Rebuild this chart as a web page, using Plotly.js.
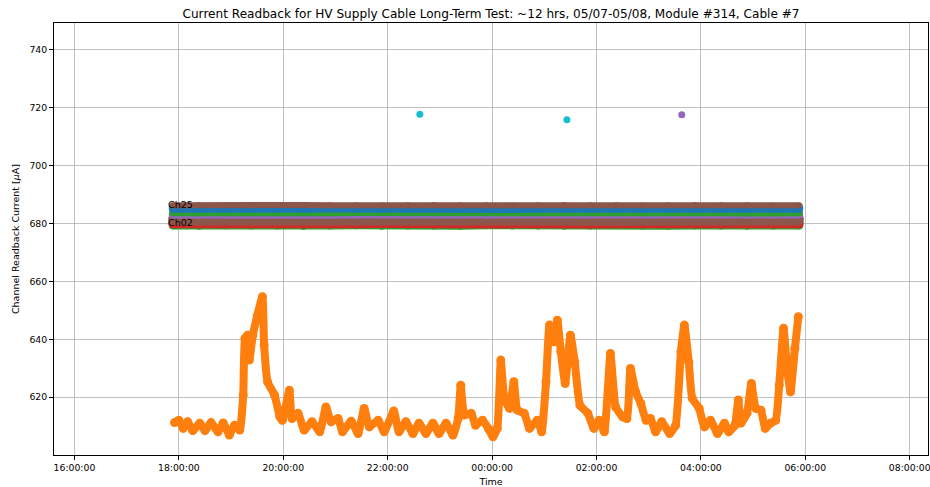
<!DOCTYPE html>
<html>
<head>
<meta charset="utf-8">
<script src="https://cdn.plot.ly/plotly-3.0.1.min.js"></script>
<style>html,body{margin:0;padding:0;background:#fff;}#chart{width:930px;height:487px;}</style>
</head>
<body>
<div id="chart"></div>
<script>
// ---- Data ----
const flatTimes = [
  "2023-05-07 17:53","2023-05-07 18:23","2023-05-07 18:53","2023-05-07 19:23","2023-05-07 19:53",
  "2023-05-07 20:23","2023-05-07 20:53","2023-05-07 21:23","2023-05-07 21:53","2023-05-07 22:23",
  "2023-05-07 22:53","2023-05-07 23:23","2023-05-07 23:53","2023-05-08 00:23","2023-05-08 00:53",
  "2023-05-08 01:23","2023-05-08 01:53","2023-05-08 02:23","2023-05-08 02:53","2023-05-08 03:23",
  "2023-05-08 03:53","2023-05-08 04:23","2023-05-08 04:53","2023-05-08 05:23","2023-05-08 05:53"
];
const chGreenLow  = [679.3,679.2,679.4,679.3,679.3,679.1,679.3,679.4,679.2,679.3,679.3,679.2,679.4,679.3,679.3,679.2,679.3,679.4,679.3,679.2,679.3,679.3,679.2,679.3,679.3];
const chRed       = [679.9,679.8,679.9,680.0,679.9,679.8,679.9,679.9,680.0,679.9,679.8,679.9,679.9,679.9,680.0,679.9,679.8,679.9,679.9,680.0,679.9,679.8,679.9,679.9,679.9];
const chBrownMidA = [680.9,680.8,680.9,680.9,681.0,680.9,680.8,680.9,680.9,680.9,681.0,680.9,680.8,680.9,680.9,680.9,680.8,680.9,681.0,680.9,680.9,680.8,680.9,680.9,680.9];
const chBrownMidB = [681.8,681.9,681.8,681.8,681.7,681.8,681.9,681.8,681.8,681.8,681.7,681.8,681.9,681.8,681.8,681.8,681.9,681.8,681.7,681.8,681.8,681.9,681.8,681.8,681.8];
const chPurple    = [683.1,683.0,683.1,683.1,683.2,683.1,683.0,683.1,683.1,683.1,683.2,683.1,683.0,683.1,683.1,683.1,683.0,683.1,683.2,683.1,683.1,683.0,683.1,683.1,683.1];
const chGreenHigh = [683.7,683.6,683.7,683.7,683.6,683.7,683.7,683.8,683.7,683.6,683.7,683.7,683.7,683.6,683.7,683.7,683.8,683.7,683.6,683.7,683.7,683.7,683.6,683.7,683.7];
const chCyan      = [685.7,685.6,685.7,685.7,685.8,685.7,685.6,685.7,685.7,685.7,685.8,685.7,685.6,685.7,685.7,685.7,685.6,685.7,685.8,685.7,685.7,685.6,685.7,685.7,685.7];
const chBlue      = [685.1,685.0,685.1,685.1,685.0,685.1,685.2,685.1,685.1,685.0,685.1,685.1,685.1,685.0,685.1,685.2,685.1,685.1,685.0,685.1,685.1,685.1,685.0,685.1,685.1];
const chBrownTop  = [686.3,686.4,686.3,686.2,686.3,686.4,686.3,686.3,686.2,686.3,686.4,686.3,686.3,686.2,686.3,686.4,686.3,686.3,686.2,686.3,686.4,686.3,686.3,686.2,686.3];

const cyanOutTimes = ["2023-05-07 22:37","2023-05-08 01:26"];
const cyanOutVals  = [717.8, 715.9];
const purpleOutTimes = ["2023-05-08 03:38"];
const purpleOutVals  = [717.6];

const orangeTimes = [
 "2023-05-07 17:55","2023-05-07 18:00","2023-05-07 18:05","2023-05-07 18:10","2023-05-07 18:16","2023-05-07 18:24",
 "2023-05-07 18:30","2023-05-07 18:37","2023-05-07 18:45","2023-05-07 18:51","2023-05-07 18:58","2023-05-07 19:04",
 "2023-05-07 19:10","2023-05-07 19:14","2023-05-07 19:16","2023-05-07 19:19","2023-05-07 19:21","2023-05-07 19:25",
 "2023-05-07 19:30","2023-05-07 19:36","2023-05-07 19:38","2023-05-07 19:42","2023-05-07 19:50","2023-05-07 19:56",
 "2023-05-07 19:59","2023-05-07 20:07","2023-05-07 20:10","2023-05-07 20:17","2023-05-07 20:24","2023-05-07 20:33",
 "2023-05-07 20:42","2023-05-07 20:49","2023-05-07 20:55","2023-05-07 21:03","2023-05-07 21:08","2023-05-07 21:18",
 "2023-05-07 21:26","2023-05-07 21:33","2023-05-07 21:39","2023-05-07 21:49","2023-05-07 21:56","2023-05-07 22:07",
 "2023-05-07 22:13","2023-05-07 22:21","2023-05-07 22:29","2023-05-07 22:36","2023-05-07 22:44","2023-05-07 22:52",
 "2023-05-07 22:59","2023-05-07 23:07","2023-05-07 23:15","2023-05-07 23:21","2023-05-07 23:24","2023-05-07 23:28",
 "2023-05-07 23:36","2023-05-07 23:41","2023-05-07 23:49","2023-05-07 23:56","2023-05-08 00:01","2023-05-08 00:06",
 "2023-05-08 00:10","2023-05-08 00:14","2023-05-08 00:20","2023-05-08 00:25","2023-05-08 00:29","2023-05-08 00:37",
 "2023-05-08 00:43","2023-05-08 00:52","2023-05-08 00:57","2023-05-08 01:02","2023-05-08 01:06","2023-05-08 01:11",
 "2023-05-08 01:15","2023-05-08 01:19","2023-05-08 01:24","2023-05-08 01:30","2023-05-08 01:35","2023-05-08 01:41",
 "2023-05-08 01:50","2023-05-08 01:57","2023-05-08 02:03","2023-05-08 02:09","2023-05-08 02:16","2023-05-08 02:22",
 "2023-05-08 02:30","2023-05-08 02:35","2023-05-08 02:39","2023-05-08 02:45","2023-05-08 02:51","2023-05-08 02:57",
 "2023-05-08 03:02","2023-05-08 03:08","2023-05-08 03:15","2023-05-08 03:24","2023-05-08 03:31","2023-05-08 03:37",
 "2023-05-08 03:41","2023-05-08 03:46","2023-05-08 03:50","2023-05-08 03:58","2023-05-08 04:04","2023-05-08 04:11",
 "2023-05-08 04:19","2023-05-08 04:27","2023-05-08 04:32","2023-05-08 04:39","2023-05-08 04:43","2023-05-08 04:46",
 "2023-05-08 04:53","2023-05-08 04:58","2023-05-08 05:03","2023-05-08 05:09","2023-05-08 05:14","2023-05-08 05:20",
 "2023-05-08 05:26","2023-05-08 05:30","2023-05-08 05:35","2023-05-08 05:39","2023-05-08 05:43","2023-05-08 05:48",
 "2023-05-08 05:52"
];
const orangeVals = [
 611.2,612.0,609.2,611.5,608.4,611.0,
 608.4,611.2,608.0,611.1,606.9,610.3,
 608.6,620.7,640.3,641.4,632.8,641.4,
 648.0,654.7,638.0,625.3,620.7,613.2,
 612.0,622.4,612.6,614.4,608.6,611.5,
 608.0,616.6,611.5,612.6,608.0,611.7,
 607.4,616.1,609.7,612.0,608.0,615.2,
 608.0,611.5,607.4,611.0,607.4,611.0,
 607.4,611.0,606.9,612.6,624.1,613.8,
 614.4,610.3,612.0,609.0,606.3,609.2,
 632.8,619.6,616.1,625.3,615.5,614.4,
 609.2,612.0,608.0,625.3,644.9,639.1,
 646.6,635.7,624.7,641.4,632.2,617.2,
 614.4,609.2,612.0,608.0,635.1,616.6,
 613.2,612.6,629.9,621.8,617.8,612.0,
 612.6,608.0,611.5,607.4,610.3,635.7,
 644.9,632.2,619.6,616.1,609.7,612.0,
 607.4,611.0,608.0,610.3,619.0,611.0,
 614.4,624.7,616.1,615.5,609.2,611.0,
 612.0,624.1,643.8,629.9,621.8,636.8,
 647.8
];

const labelTexts = ["Ch25","Ch02"];
const labelTimes = ["2023-05-07 17:45","2023-05-07 17:45"];
const labelVals  = [686.6, 680.5];

// ---- Traces ----
function flat(y, color, w) {
  return {x: flatTimes, y: y, type: 'scatter', mode: 'lines+markers',
    line: {color: color, width: w}, marker: {color: color, size: w}, hoverinfo: 'skip'};
}
const traces = [
  flat(chGreenLow, '#2ca02c', 8),
  flat(chRed, '#d62728', 9),
  flat(chBrownMidA, '#8c564b', 9),
  flat(chBrownMidB, '#8c564b', 9),
  flat(chPurple, '#9467bd', 8),
  flat(chGreenHigh, '#2ca02c', 7),
  flat(chCyan, '#17becf', 8),
  flat(chBlue, '#1f77b4', 8),
  flat(chBrownTop, '#8c564b', 6),
  {x: orangeTimes, y: orangeVals, type: 'scatter', mode: 'lines+markers',
    line: {color: '#ff7f0e', width: 8, shape: 'spline', smoothing: 0.4}, marker: {color: '#ff7f0e', size: 9}},
  {x: cyanOutTimes, y: cyanOutVals, type: 'scatter', mode: 'markers', marker: {color: '#17becf', size: 7}},
  {x: purpleOutTimes, y: purpleOutVals, type: 'scatter', mode: 'markers', marker: {color: '#9467bd', size: 7}}
];

const annotations = labelTexts.map((t, i) => ({
  x: labelTimes[i], y: labelVals[i], text: t, showarrow: false,
  xanchor: 'left', yanchor: 'middle', font: {family: 'DejaVu Sans', size: 9.5, color: '#000'}
}));

const axisCommon = {
  showline: true, linecolor: '#000', linewidth: 1, mirror: true,
  ticks: 'outside', ticklen: 4, tickcolor: '#000', tickwidth: 1,
  showgrid: true, gridcolor: '#b0b0b0', gridwidth: 0.8, zeroline: false,
  tickfont: {family: 'DejaVu Sans', size: 9.3, color: '#000'}
};

const layout = {
  width: 930, height: 487,
  margin: {l: 54, r: 2, t: 23, b: 32},
  paper_bgcolor: '#fff', plot_bgcolor: '#fff',
  showlegend: false,
  font: {family: 'DejaVu Sans', color: '#000'},
  title: {text: 'Current Readback for HV Supply Cable Long-Term Test: ~12 hrs, 05/07-05/08, Module #314, Cable #7',
    font: {family: 'DejaVu Sans', size: 12.1, color: '#000'}, x: 0.528, xanchor: 'center', y: 0.972, yanchor: 'middle'},
  xaxis: Object.assign({}, axisCommon, {
    type: 'date', range: ['2023-05-07 15:36:30', '2023-05-08 08:21:00'],
    tick0: '2023-05-07 16:00', dtick: 7200000, tickformat: '%H:%M:%S',
    ticklabeloverflow: 'allow',
    title: {text: 'Time', font: {family: 'DejaVu Sans', size: 9.5, color: '#000'}, standoff: 6}
  }),
  yaxis: Object.assign({}, axisCommon, {
    range: [600, 749.3], tick0: 600, dtick: 20, tickvals: [620,640,660,680,700,720,740],
    title: {text: 'Channel Readback Current [<i>μ</i>A]', font: {family: 'DejaVu Sans', size: 9.5, color: '#000'}, standoff: 8}
  }),
  annotations: annotations
};

Plotly.newPlot('chart', traces, layout, {displayModeBar: false, staticPlot: true});
</script>
</body>
</html>
